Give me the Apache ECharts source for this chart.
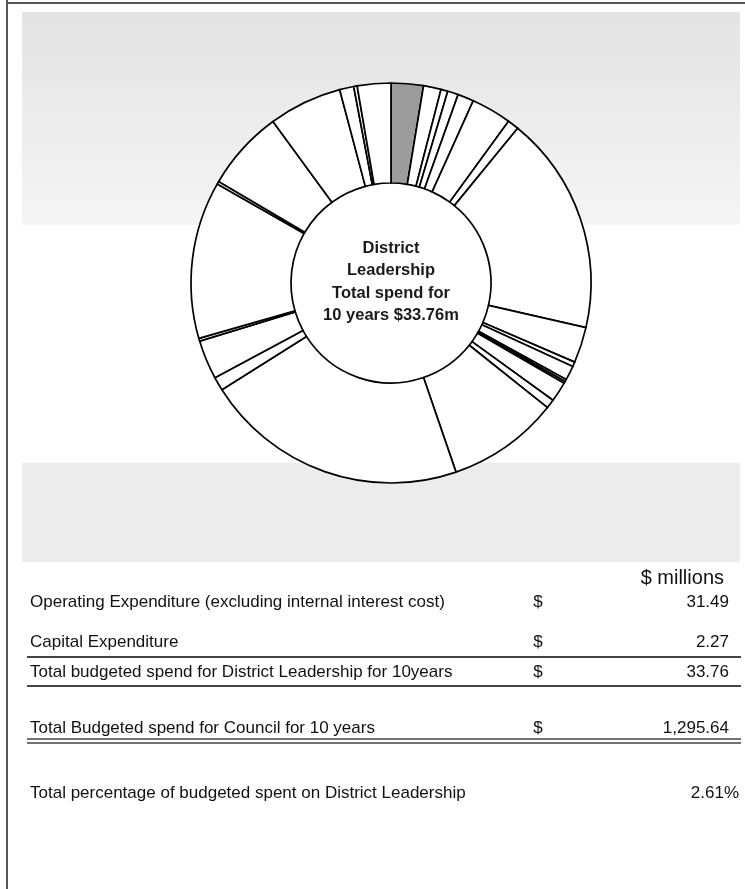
<!DOCTYPE html>
<html>
<head>
<meta charset="utf-8">
<script src="https://cdn.jsdelivr.net/npm/echarts@6/dist/echarts.min.js"></script>
<style>
html,body{margin:0;padding:0;background:#fff;}
#chart{width:745px;height:889px;}
</style>
</head>
<body>
<div id="chart"></div>
<script>
// Slice values ($ millions over 10 years), clockwise from top; first is District Leadership
const sliceNames = [
  "District Leadership","Activity 2","Activity 3","Activity 4","Activity 5","Activity 6",
  "Activity 7","Activity 8","Activity 9","Activity 10","Activity 11","Activity 12",
  "Activity 13","Activity 14","Activity 15","Activity 16","Activity 17","Activity 18",
  "Activity 19","Activity 20","Activity 21","Activity 22","Activity 23","Activity 24",
  "Activity 25","Activity 26","Activity 27"
];
const sliceValues = [
  33.76, 18.4, 7.2, 11.2, 16.9, 42.1,
  11.9, 228.9, 37.4, 5.0, 15.1, 2.2,
  2.2, 20.9, 9.4, 117.0, 276.0, 14.4,
  41.0, 2.9, 164.8, 2.9, 83.9, 76.7,
  14.8, 3.6, 35.1
];
const highlightIndex = 0;

const centerLines = ["District", "Leadership", "Total spend for", "10 years $33.76m"];

const headerLabel = "$ millions";
const rowLabels = [
  "Operating Expenditure (excluding internal interest cost)",
  "Capital Expenditure",
  "Total budgeted spend for District Leadership for 10years",
  "Total Budgeted spend for Council for 10 years",
  "Total percentage of budgeted spent on District Leadership"
];
const rowCurrency = ["$", "$", "$", "$", ""];
const rowValues = ["31.49", "2.27", "33.76", "1,295.64", "2.61%"];

const chart = echarts.init(document.getElementById('chart'), null, {renderer: 'canvas'});

const CX = 391, CY = 283;
const rowY = [602, 642, 672, 728, 793];
const valueRight = [729, 729, 729, 729, 739];

const font = '"Liberation Sans", Arial, sans-serif';
const elements = [];

// frame
elements.push({type:'line', z:-5, shape:{x1:7,y1:0,x2:7,y2:889}, style:{stroke:'#555',lineWidth:2}});
elements.push({type:'line', z:-5, shape:{x1:7,y1:3,x2:745,y2:3}, style:{stroke:'#555',lineWidth:2}});
// background panel
elements.push({type:'rect', z:-10, shape:{x:22,y:12,width:718,height:213},
  style:{fill:new echarts.graphic.LinearGradient(0,0,0,1,[{offset:0,color:'#e3e3e3'},{offset:1,color:'#f5f5f5'}])}});
elements.push({type:'rect', z:-10, shape:{x:22,y:463,width:718,height:99}, style:{fill:'#ececec'}});
// donut hole
elements.push({type:'circle', z:-4, shape:{cx:CX,cy:CY,r:100}, style:{fill:'#fff'}});

// center text
centerLines.forEach((t,i)=>{
  elements.push({type:'text', z:50, x:CX, y:248 + i*22.5,
    style:{text:t, font:'bold 16.5px ' + font, fill:'#1a1a1a', textAlign:'center', textVerticalAlign:'middle'}});
});

// table
elements.push({type:'text', z:50, x:724, y:578,
  style:{text:headerLabel, font:'20px ' + font, fill:'#111', textAlign:'right', textVerticalAlign:'middle'}});
rowLabels.forEach((t,i)=>{
  elements.push({type:'text', z:50, x:30, y:rowY[i],
    style:{text:t, font:'17px ' + font, fill:'#111', textAlign:'left', textVerticalAlign:'middle'}});
  if (rowCurrency[i]) {
    elements.push({type:'text', z:50, x:538, y:rowY[i],
      style:{text:rowCurrency[i], font:'17px ' + font, fill:'#111', textAlign:'center', textVerticalAlign:'middle'}});
  }
  elements.push({type:'text', z:50, x:valueRight[i], y:rowY[i],
    style:{text:rowValues[i], font:'17px ' + font, fill:'#111', textAlign:'right', textVerticalAlign:'middle'}});
});
// rules
elements.push({type:'line', z:50, shape:{x1:27,y1:657,x2:741,y2:657}, style:{stroke:'#444',lineWidth:2}});
elements.push({type:'line', z:50, shape:{x1:27,y1:686,x2:741,y2:686}, style:{stroke:'#444',lineWidth:2}});
elements.push({type:'line', z:50, shape:{x1:27,y1:739,x2:741,y2:739}, style:{stroke:'#444',lineWidth:1.5}});
elements.push({type:'line', z:50, shape:{x1:27,y1:743,x2:741,y2:743}, style:{stroke:'#444',lineWidth:1.5}});

const pieData = sliceValues.map((v,i)=>({
  name: sliceNames[i], value: v,
  itemStyle:{color: i === highlightIndex ? '#9c9c9c' : '#ffffff'}
}));

chart.setOption({
  animation:false,
  graphic:{elements: elements},
  series:[{
    type:'pie',
    z:10,
    center:[CX, CY],
    radius:[100, 200],
    startAngle:90,
    clockwise:true,
    minAngle:0,
    avoidLabelOverlap:false,
    label:{show:false},
    labelLine:{show:false},
    emphasis:{disabled:true},
    itemStyle:{borderColor:'#000', borderWidth:1.7},
    data: pieData
  }]
});
</script>
</body>
</html>
